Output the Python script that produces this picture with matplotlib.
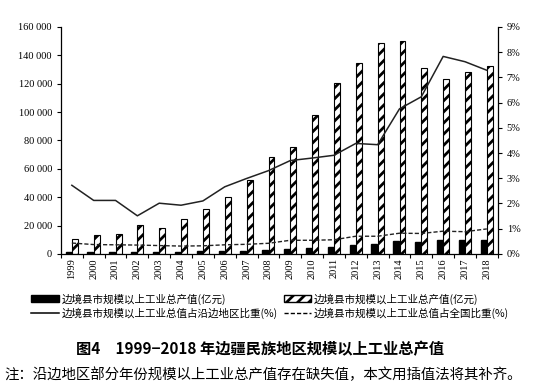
import matplotlib
matplotlib.use("Agg")
import matplotlib.pyplot as plt
import numpy as np
from matplotlib.patches import Patch
from matplotlib.lines import Line2D
from matplotlib.ticker import FuncFormatter

plt.rcParams['font.family'] = ['Liberation Serif', 'Noto Sans CJK SC', 'DejaVu Sans']
plt.rcParams['hatch.linewidth'] = 2.0

years = [str(y) for y in range(1999, 2019)]
border_val = [1500, 1500, 1500, 1500, 1500, 1500, 1700, 1800, 2000, 2500,
              3300, 4000, 4900, 6300, 6800, 9200, 8500, 10100, 10000, 10000]
total_val = [10800, 13200, 13900, 20200, 18100, 24900, 31500, 40400, 52200, 68100,
             75600, 97700, 120700, 134400, 148900, 149900, 130900, 123100, 128000, 132700]
share_border = [2.72, 2.12, 2.12, 1.51, 2.01, 1.93, 2.10, 2.66, 2.99, 3.30,
                3.70, 3.80, 3.91, 4.38, 4.33, 5.75, 6.23, 7.83, 7.62, 7.28]
share_nation = [0.43, 0.37, 0.36, 0.35, 0.33, 0.31, 0.32, 0.36, 0.38, 0.42,
                0.54, 0.54, 0.56, 0.70, 0.70, 0.82, 0.81, 0.90, 0.88, 0.99]

fig = plt.figure(figsize=(5.44, 3.9), dpi=100)
ax = fig.add_axes([0.112, 0.349, 0.803, 0.582])
x = np.arange(len(years))
w = 0.27

ax.bar(x - 0.15, border_val, w, color='black', edgecolor='black', zorder=2)
ax.bar(x + 0.14, total_val, w, color='white', edgecolor='black', hatch='///',
       linewidth=0.8, zorder=2)
ax.set_xlim(-0.5, len(years) - 0.5)
ax.set_ylim(0, 160000)
ax.set_yticks(range(0, 160001, 20000))
ax.yaxis.set_major_formatter(FuncFormatter(lambda v, p: f"{int(v):,}".replace(',', ' ')))
ax.set_xticks(x)
ax.set_xticklabels(years, rotation=90, fontsize=7.5)
ax.set_xticks(np.arange(-0.5, len(years)), minor=True)
ax.tick_params(axis='x', which='major', length=0, pad=3)
ax.tick_params(axis='x', which='minor', length=3, width=0.8)
ax.tick_params(axis='y', labelsize=7.5, length=3, width=0.8)
for s in ['top', 'right']:
    ax.spines[s].set_visible(False)
ax.spines['left'].set_linewidth(0.9)
ax.spines['bottom'].set_linewidth(0.9)

ax2 = ax.twinx()
ax2.plot(x, share_border, color='#222222', lw=1.1, zorder=3)
ax2.plot(x, share_nation, color='#222222', lw=1.0, ls=(0, (3, 1.5)), zorder=3)
ax2.set_ylim(0, 9)
ax2.set_yticks(range(0, 10))
ax2.yaxis.set_major_formatter(FuncFormatter(lambda v, p: f"{int(v)}%"))
ax2.tick_params(axis='y', labelsize=7.5, length=3, width=0.8)
for s in ['top', 'left', 'bottom']:
    ax2.spines[s].set_visible(False)
ax2.spines['right'].set_linewidth(0.9)

cjk = ['Noto Sans CJK SC', 'DejaVu Sans']
h_black = Patch(facecolor='black', edgecolor='black')
h_hatch = Patch(facecolor='white', edgecolor='black', hatch='///')
h_solid = Line2D([], [], color='black', lw=1.1)
h_dash = Line2D([], [], color='black', lw=1.0, ls=(0, (3, 1.5)))
handles = [h_black, h_solid, h_hatch, h_dash]
labels = ['边境县市规模以上工业总产值(亿元)', '边境县市规模以上工业总值占沿边地区比重(%)',
          '边境县市规模以上工业总产值(亿元)', '边境县市规模以上工业总值占全国比重(%)']
fig.legend(handles, labels, loc='center', bbox_to_anchor=(0.497, 0.215), ncol=2,
           frameon=False, prop={'family': cjk, 'size': 7.6}, handlelength=2.6,
           handleheight=0.7, columnspacing=0.5, labelspacing=0.3, handletextpad=0.3)

fig.text(0.478, 0.105, '图4　1999−2018 年边疆民族地区规模以上工业总产值', ha='center', va='center',
         fontsize=11, fontweight='bold', family=cjk)
fig.text(0.008, 0.04, '注：沿边地区部分年份规模以上工业总产值存在缺失值，本文用插值法将其补齐。',
         ha='left', va='center', fontsize=10.4, family=cjk)

fig.savefig('out.png', dpi=100)
